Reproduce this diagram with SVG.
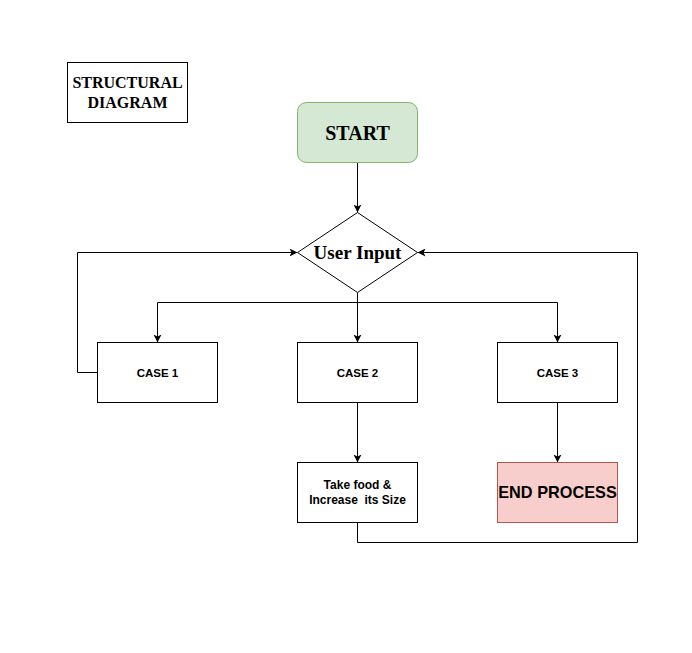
<svg xmlns="http://www.w3.org/2000/svg" width="692" height="653" viewBox="0 0 692 653">
<style>
.box{fill:#fff;stroke:#000;stroke-width:1}
.edge{fill:none;stroke:#000;stroke-width:1}
.serif{font-family:"Liberation Serif","Times New Roman",serif;font-weight:bold;text-anchor:middle;fill:#000}
.sans{font-family:"Liberation Sans",Arial,Helvetica,sans-serif;font-weight:bold;text-anchor:middle;fill:#000}
</style>
<defs>
<marker id="arr" viewBox="0 0 10 10" refX="10" refY="5" markerWidth="8" markerHeight="8" markerUnits="userSpaceOnUse" orient="auto">
<path d="M0,0 L10,5 L0,10 L2.5,5 Z" fill="#000"/>
</marker>
</defs>
<rect width="692" height="653" fill="#fff"/>
<g id="connectors">
<path class="edge" d="M357.5,162.5 V212.5" marker-end="url(#arr)"/>
<path class="edge" d="M357.5,292.5 V302.5 H157.5 V342.5" marker-end="url(#arr)"/>
<path class="edge" d="M357.5,302.5 V342.5" marker-end="url(#arr)"/>
<path class="edge" d="M357.5,302.5 H557.5 V342.5" marker-end="url(#arr)"/>
<path class="edge" d="M97.5,372.5 H77.5 V252.5 H297.5" marker-end="url(#arr)"/>
<path class="edge" d="M357.5,402.5 V462.5" marker-end="url(#arr)"/>
<path class="edge" d="M557.5,402.5 V462.5" marker-end="url(#arr)"/>
<path class="edge" d="M357.5,522.5 V542.5 H637.5 V252.5 H417.5" marker-end="url(#arr)"/>
</g>
<g id="title">
<rect class="box" x="67.5" y="62.5" width="120" height="60"/>
<text class="serif" x="127.5" y="88" font-size="16">STRUCTURAL</text>
<text class="serif" x="127.5" y="108" font-size="16">DIAGRAM</text>
</g>
<g id="start">
<rect x="297.5" y="102.5" width="120" height="60" rx="9" ry="9" fill="#d5e8d4" stroke="#82b366"/>
<text class="serif" x="357.5" y="139.5" font-size="20">START</text>
</g>
<g id="input">
<polygon points="357.5,212.5 417.5,252.5 357.5,292.5 297.5,252.5" class="box"/>
<text class="serif" x="357.5" y="258.5" font-size="19">User Input</text>
</g>
<g id="case1">
<rect class="box" x="97.5" y="342.5" width="120" height="60"/>
<text class="sans" x="157.5" y="376.5" font-size="11.5">CASE 1</text>
</g>
<g id="case2">
<rect class="box" x="297.5" y="342.5" width="120" height="60"/>
<text class="sans" x="357.5" y="376.5" font-size="11.5">CASE 2</text>
</g>
<g id="case3">
<rect class="box" x="497.5" y="342.5" width="120" height="60"/>
<text class="sans" x="557.5" y="376.5" font-size="11.5">CASE 3</text>
</g>
<g id="takefood">
<rect class="box" x="297.5" y="462.5" width="120" height="60"/>
<text class="sans" x="357.5" y="489" font-size="12">Take food &amp;</text>
<text class="sans" x="357.5" y="504" font-size="12" xml:space="preserve">Increase  its Size</text>
</g>
<g id="end">
<rect x="497.5" y="462.5" width="120" height="60" fill="#f8cecc" stroke="#b85450"/>
<text class="sans" x="557.5" y="498" font-size="16.3">END PROCESS</text>
</g>
</svg>
